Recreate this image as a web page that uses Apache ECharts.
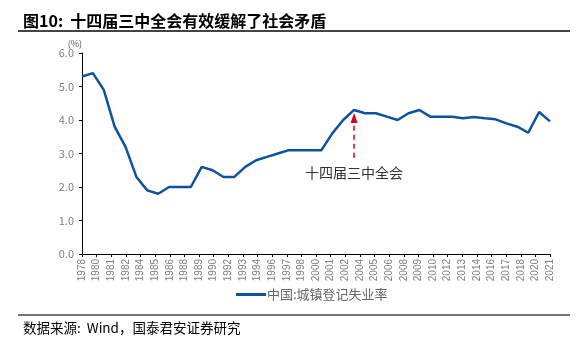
<!DOCTYPE html>
<html><head><meta charset="utf-8">
<script src="https://cdn.jsdelivr.net/npm/echarts@6/dist/echarts.min.js"></script>
<style>html,body{margin:0;padding:0;background:#fff}#c{width:587px;height:341px}</style>
</head><body><div id="c"></div>
<script>
var years = [];
for (var y = 1978; y <= 2021; y++) years.push(String(y));
var rate = [5.3,5.4,4.9,3.8,3.2,2.3,1.9,1.8,2.0,2.0,2.0,2.6,2.5,2.3,2.3,2.6,2.8,2.9,3.0,3.1,3.1,3.1,3.1,3.6,4.0,4.3,4.2,4.2,4.1,4.0,4.2,4.3,4.1,4.1,4.1,4.05,4.09,4.05,4.02,3.9,3.8,3.62,4.24,3.96];
var tickLabels = ['1978','1980','1981','1982','1984','1985','1986','1988','1989','1990','1992','1993','1994','1996','1997','1998','2000','2001','2002','2004','2005','2006','2008','2009','2010','2012','2013','2014','2016','2017','2018','2020','2021'];
var seriesName = '中国:城镇登记失业率';
var annoText = '十四届三中全会';
var annoYear = '2003';
var annoFrom = 2.87, annoTo = 4.06;

var cjk = '"Noto Sans CJK SC", sans-serif';
var chart = echarts.init(document.getElementById('c'));
chart.setOption({
  animation: false,
  grid: {left: 82, right: 37, top: 53, bottom: 87},
  xAxis: [{
    type: 'category', data: tickLabels, boundaryGap: false,
    axisLine: {lineStyle: {color: '#000', width: 1}},
    axisTick: {show: true, length: 3, lineStyle: {color: '#000'}},
    axisLabel: {rotate: 90, color: '#7f7f7f', fontSize: 10, fontFamily: 'Arial, "Liberation Sans", sans-serif', margin: 5, interval: 0}
  }, {
    type: 'category', data: years, boundaryGap: false, show: false, position: 'bottom'
  }],
  yAxis: {
    type: 'value', min: 0, max: 6, interval: 1,
    name: '(%)', nameLocation: 'end', nameGap: 3,
    nameTextStyle: {color: '#555', fontSize: 9, fontFamily: cjk, align: 'right', padding: [0, 0, 0, 0]},
    axisLine: {show: true, lineStyle: {color: '#000', width: 1}},
    axisTick: {show: true, length: 3, lineStyle: {color: '#000'}},
    splitLine: {show: false},
    axisLabel: {color: '#7f7f7f', fontSize: 11, fontFamily: cjk, margin: 8, formatter: function (v) { return v.toFixed(1); }}
  },
  legend: {
    bottom: 35, left: 231, itemWidth: 30, itemHeight: 3, itemGap: 10,
    icon: 'rect',
    textStyle: {color: '#666', fontSize: 13, fontFamily: cjk, padding: [0,0,0,-4]},
    data: [seriesName]
  },
  title: [{
    text: '图10:  十四届三中全会有效缓解了社会矛盾', left: 18, top: 8,
    textStyle: {fontSize: 16, fontWeight: 'bold', color: '#000', fontFamily: cjk}
  }, {
    text: '数据来源:  Wind，国泰君安证券研究', left: 18, top: 316,
    textStyle: {fontSize: 13.5, fontWeight: 'normal', color: '#000', fontFamily: cjk}
  }],
  graphic: [
    {type: 'line', shape: {x1: 18, y1: 31, x2: 570, y2: 31}, style: {stroke: '#444', lineWidth: 2}},
    {type: 'line', shape: {x1: 18, y1: 315, x2: 570, y2: 315}, style: {stroke: '#444', lineWidth: 1.5}}
  ],
  series: [{
    name: seriesName, type: 'line', xAxisIndex: 1, data: rate,
    showSymbol: false, symbol: 'none',
    lineStyle: {color: '#0b539e', width: 2.5},
    itemStyle: {color: '#0b539e'},
    markLine: {
      silent: true, symbol: ['none', 'triangle'], symbolSize: [7, 10],
      lineStyle: {color: '#d9001b', type: [5, 4], width: 1.5},
      label: {show: true, position: 'start', formatter: annoText, color: '#333', fontSize: 14, fontFamily: cjk, distance: 8},
      data: [[{coord: [annoYear, annoFrom]}, {coord: [annoYear, annoTo]}]]
    }
  }]
});
</script></body></html>
